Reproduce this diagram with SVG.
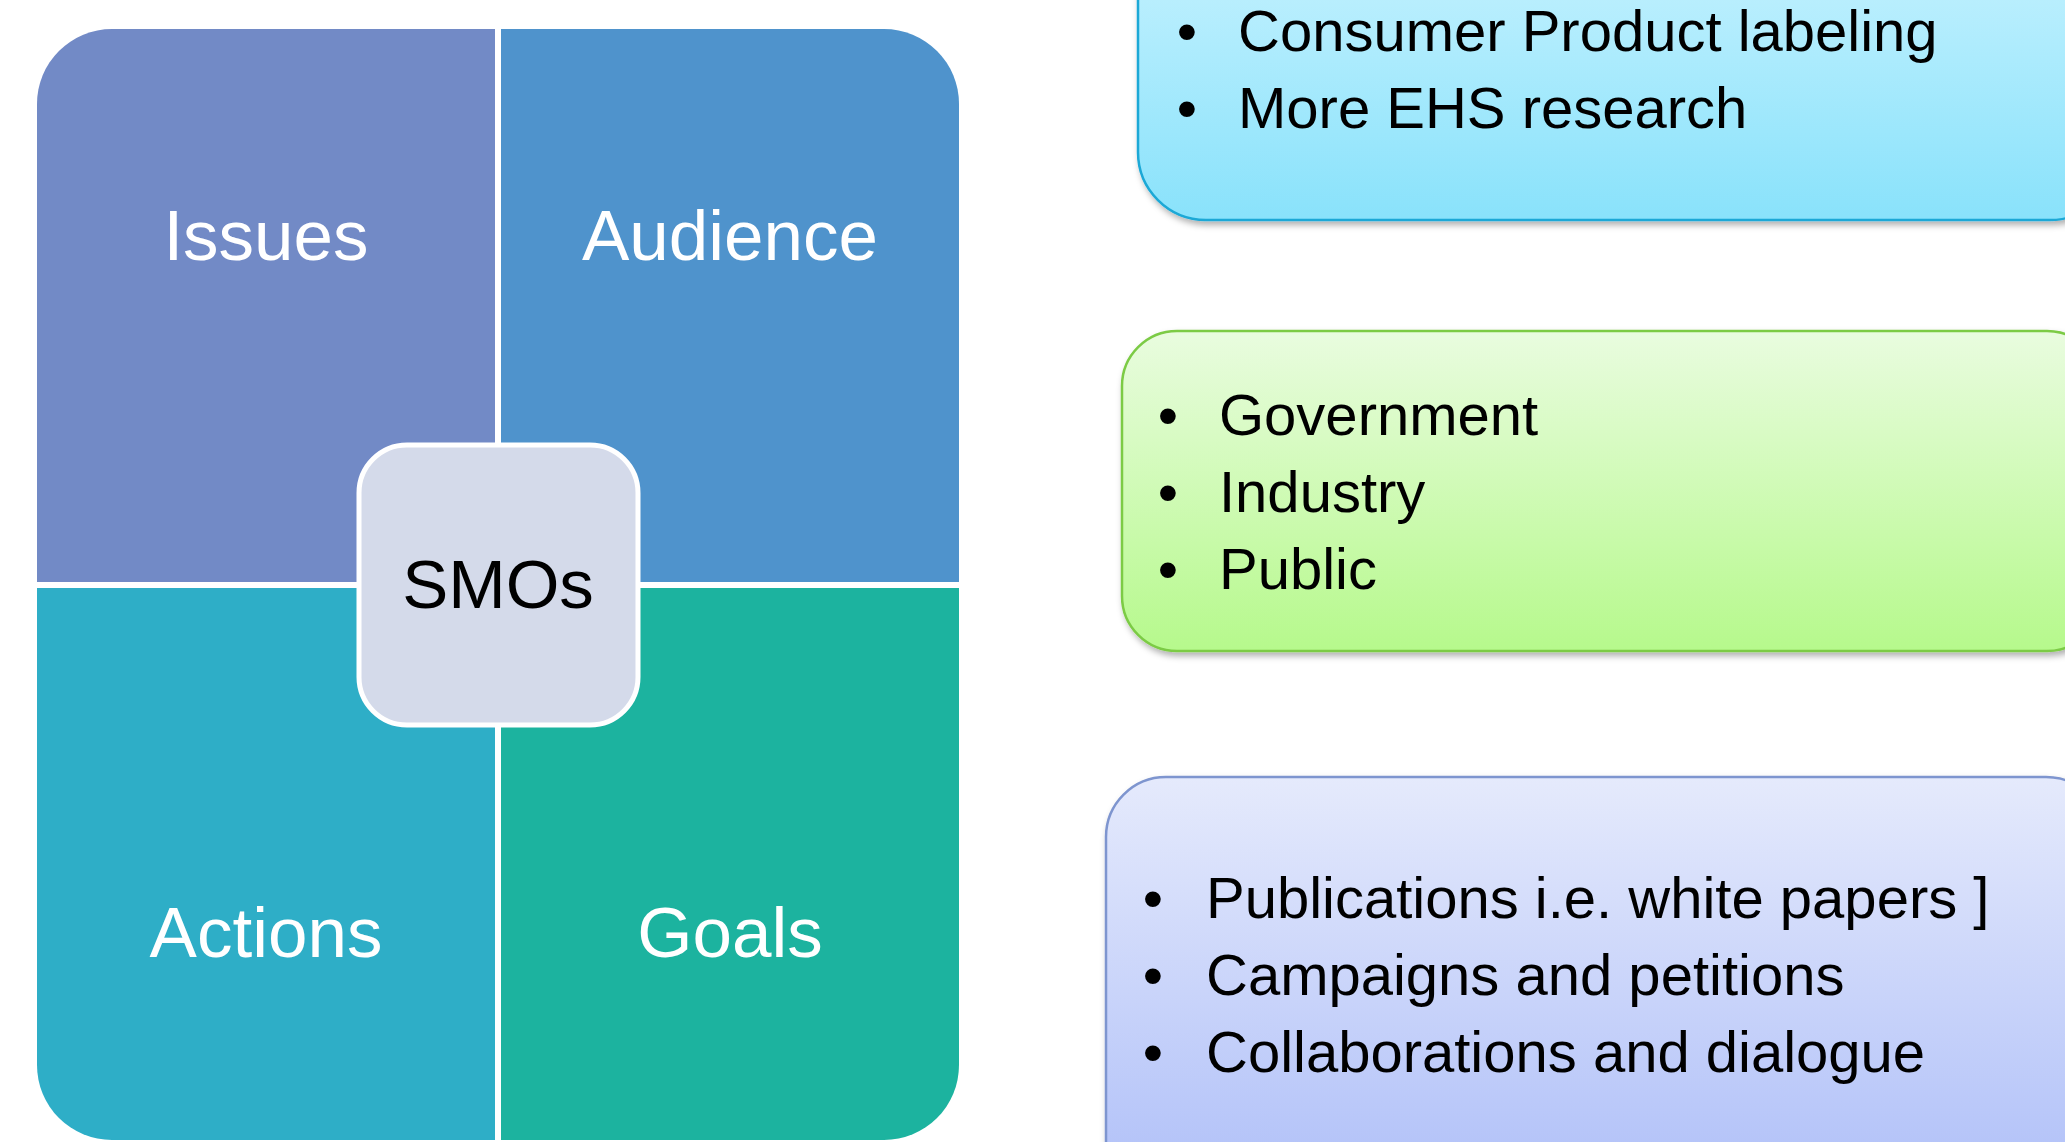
<svg xmlns="http://www.w3.org/2000/svg" width="2065" height="1142" viewBox="0 0 2065 1142">
<style>
.qlabel{font-family:"Liberation Sans",Arial,sans-serif;font-size:71px;fill:#ffffff;text-anchor:middle}
.center{font-family:"Liberation Sans",Arial,sans-serif;font-size:69px;fill:#000000;text-anchor:middle}
.item{font-family:"Liberation Sans",Arial,sans-serif;font-size:58px;fill:#000000}
.bul{font-family:"Liberation Sans",Arial,sans-serif;font-size:58px;fill:#000000;text-anchor:middle}
</style>
<defs>
<linearGradient id="gBlue" x1="0" y1="0" x2="0" y2="1">
<stop offset="0" stop-color="#D2F5FF"/><stop offset="1" stop-color="#89E2FB"/>
</linearGradient>
<linearGradient id="gGreen" x1="0" y1="0" x2="0" y2="1">
<stop offset="0" stop-color="#E9FCDF"/><stop offset="1" stop-color="#B6F98C"/>
</linearGradient>
<linearGradient id="gLav" x1="0" y1="0" x2="0" y2="1">
<stop offset="0" stop-color="#E5EAFC"/><stop offset="1" stop-color="#ACBDF8"/>
</linearGradient>
<filter id="shadow" x="-5%" y="-5%" width="110%" height="120%">
<feDropShadow dx="2" dy="4" stdDeviation="3" flood-color="#000000" flood-opacity="0.3"/>
</filter>
</defs>
<rect width="2065" height="1142" fill="#ffffff"/>

<g id="issues">
<path d="M37,104 A75,75 0 0 1 112,29 H495 V582 H37 Z" fill="#728AC6"/>
<text class="qlabel" x="266" y="260">Issues</text>
</g>
<g id="audience">
<path d="M501,29 H884 A75,75 0 0 1 959,104 V582 H501 Z" fill="#4F93CC"/>
<text class="qlabel" x="730" y="260">Audience</text>
</g>
<g id="actions">
<path d="M37,588 H495 V1140 H112 A75,75 0 0 1 37,1065 Z" fill="#2EAEC7"/>
<text class="qlabel" x="266" y="957">Actions</text>
</g>
<g id="goals">
<path d="M501,588 H959 V1065 A75,75 0 0 1 884,1140 H501 Z" fill="#1CB39F"/>
<text class="qlabel" x="730" y="957">Goals</text>
</g>
<g id="smos">
<rect x="359" y="445" width="279" height="280" rx="48" ry="48" fill="#D4DAEA" stroke="#ffffff" stroke-width="5"/>
<text class="center" x="498" y="608">SMOs</text>
</g>

<g id="goals-box">
<rect x="1138" y="-120" width="980" height="340" rx="68" ry="68" fill="url(#gBlue)" stroke="#1BA8D6" stroke-width="2.5" filter="url(#shadow)"/>
<text class="bul" x="1187" y="51">•</text>
<text class="item" x="1238" y="51">Consumer Product labeling</text>
<text class="bul" x="1187" y="128">•</text>
<text class="item" x="1238" y="128">More EHS research</text>
</g>
<g id="audience-box">
<rect x="1122" y="331" width="980" height="320" rx="55" ry="55" fill="url(#gGreen)" stroke="#7BCB45" stroke-width="2.5" filter="url(#shadow)"/>
<text class="bul" x="1168" y="435">•</text>
<text class="item" x="1219" y="435">Government</text>
<text class="bul" x="1168" y="512">•</text>
<text class="item" x="1219" y="512">Industry</text>
<text class="bul" x="1168" y="589">•</text>
<text class="item" x="1219" y="589">Public</text>
</g>
<g id="actions-box">
<rect x="1106" y="777" width="1000" height="440" rx="60" ry="60" fill="url(#gLav)" stroke="#7E95CF" stroke-width="2.5" filter="url(#shadow)"/>
<text class="bul" x="1153" y="918">•</text>
<text class="item" x="1206" y="918">Publications i.e. white papers ]</text>
<text class="bul" x="1153" y="995">•</text>
<text class="item" x="1206" y="995">Campaigns and petitions</text>
<text class="bul" x="1153" y="1072">•</text>
<text class="item" x="1206" y="1072">Collaborations and dialogue</text>
</g>
<g id="connectors"></g>
</svg>
